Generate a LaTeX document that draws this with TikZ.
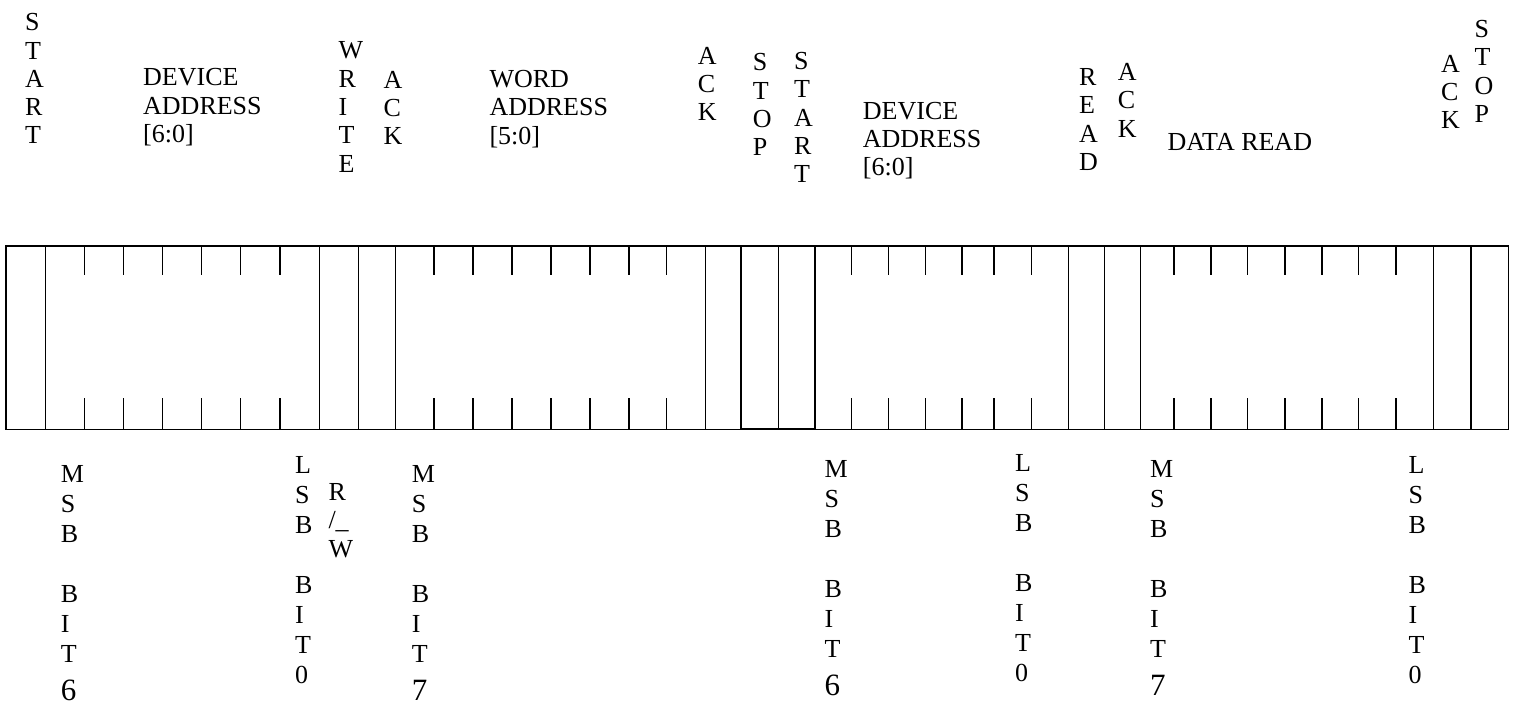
\documentclass[tikz,border=0pt]{standalone}
\usepackage{fontspec}
\setmainfont{Liberation Serif}
\usetikzlibrary{positioning}
\newcommand{\fieldfont}{\fontsize{26}{28.3}\selectfont}
\newcommand{\bitfont}{\fontsize{26}{30}\selectfont}
\newcommand{\bitnum}[1]{\\[8pt]{\fontsize{31}{30}\selectfont #1}}

\begin{document}
\begin{tikzpicture}[x=1pt, y=-1pt,
    lbl/.style={anchor=north west, align=left, inner sep=0pt, font=\fieldfont},
    bitlbl/.style={lbl, font=\bitfont},
    frm/.style={draw, line width=1.5pt}
  ]
  \useasboundingbox (0,0) rectangle (1517,704);

  % frame with field borders and bit ticks
  \draw[frm] (6,246) rectangle (1508.3,429.3);
  \draw[frm, line width=1.9pt] (741.3,246) rectangle (815.3,429.3);
  \foreach \x in {45.7,319.3,358.7,395.3,705.7,778.7,1068.3,1104.3,1140.3,1433.3,1471}
    \draw[frm] (\x,246) -- (\x,429.3);
  \foreach \x in {84.7,123.7,162.7,201.7,240.7,280,
                  434,473,512,551,590,629,666.7,
                  851.3,888.3,925.3,962,994,1031.3,
                  1174,1211,1247.7,1285,1322,1358.7,1396}
    {\draw[frm] (\x,246) -- (\x,275); \draw[frm] (\x,398) -- (\x,429.3);}

  % field names
  \node[lbl] (start1) at (25,13.3) {S\\T\\A\\R\\T};
  \node[lbl] (devaddr1) at (143,68.3) {DEVICE\\ADDRESS\\{[6:0]}};
  \node[lbl] (write) at (338.3,41.7) {W\\R\\I\\T\\E};
  \node[lbl] (ack1) at (383.3,71) {A\\C\\K};
  \node[lbl] (wordaddr) at (489.3,70) {WORD\\ADDRESS\\{[5:0]}};
  \node[lbl] (ack2) at (697.7,46.7) {A\\C\\K};
  \node[lbl] (stop1) at (752.7,53.3) {S\\T\\O\\P};
  \node[lbl] (start2) at (794,52) {S\\T\\A\\R\\T};
  \node[lbl] (devaddr2) at (862.7,101.7) {DEVICE\\ADDRESS\\{[6:0]}};
  \node[lbl] (read) at (1079,68.3) {R\\E\\A\\D};
  \node[lbl] (ack3) at (1117.7,63.3) {A\\C\\K};
  \node[lbl] (dataread) at (1167.3,133.3) {DATA READ};
  \node[lbl] (ack4) at (1441,55) {A\\C\\K};
  \node[lbl] (stop2) at (1474.3,20) {S\\T\\O\\P};

  % bit markers
  \node[bitlbl] (msb1) at (60.7,465) {M\\S\\B\\[30pt]B\\I\\T\bitnum{6}};
  \node[bitlbl] (lsb1) at (295,456) {L\\S\\B\\[30pt]B\\I\\T\\0};
  \node[lbl] (rw) at (328.3,483.3) {R\\/\_\\W};
  \node[bitlbl] (msb2) at (411.7,465) {M\\S\\B\\[30pt]B\\I\\T\bitnum{7}};
  \node[bitlbl] (msb3) at (824.3,460) {M\\S\\B\\[30pt]B\\I\\T\bitnum{6}};
  \node[bitlbl] (lsb2) at (1015,454) {L\\S\\B\\[30pt]B\\I\\T\\0};
  \node[bitlbl] (msb4) at (1150,460) {M\\S\\B\\[30pt]B\\I\\T\bitnum{7}};
  \node[bitlbl] (lsb3) at (1408.3,456) {L\\S\\B\\[30pt]B\\I\\T\\0};
\end{tikzpicture}
\end{document}
